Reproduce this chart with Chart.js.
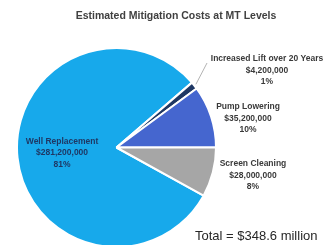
<!DOCTYPE html>
<html><head><meta charset="utf-8">
<script src="https://cdn.jsdelivr.net/npm/chart.js@4"></script>
<style>
html,body{margin:0;padding:0;background:#fff;overflow:hidden;width:325px;height:245px}
#wrap{position:relative;width:325px;height:248px}
</style>
</head><body><div id="wrap"><canvas id="c"></canvas></div>
<script>
const categories = ['Well Replacement', 'Increased Lift over 20 Years', 'Pump Lowering', 'Screen Cleaning'];
const costs = [281200000, 4200000, 35200000, 28000000];
const pctLabels = ['81%', '1%', '10%', '8%'];
const titleText = 'Estimated Mitigation Costs at MT Levels';
const totalText = 'Total = $348.6 million';

const colors = ['#17A9EB', '#1F3864', '#4566CF', '#A6A6A6'];
const FONT = '"Liberation Sans", Arial, sans-serif';

function money(v) { return '$' + v.toLocaleString('en-US'); }

const sum = costs.reduce((a, b) => a + b, 0);
const rotation = 90 + 360 * costs[3] / sum;

// label anchor layout (centre x, first-line y) for outside labels
const outside = {
  1: { x: 267, y: 59 },
  2: { x: 248, y: 107 },
  3: { x: 253, y: 164 }
};
const LH = 11.5;

const labelPlugin = {
  id: 'labels',
  afterDraw(chart) {
    const ctx = chart.ctx;
    const meta = chart.getDatasetMeta(0);
    ctx.save();
    // title
    ctx.fillStyle = '#404040';
    ctx.font = 'bold 10.5px ' + FONT;
    ctx.textAlign = 'center';
    ctx.textBaseline = 'middle';
    ctx.fillText(titleText, 176, 16);

    // inside label for Well Replacement
    const a0 = meta.data[0];
    const p0 = a0.getProps(['x', 'y', 'startAngle', 'endAngle', 'outerRadius']);
    const mid0 = (p0.startAngle + p0.endAngle) / 2;
    const ix = p0.x + Math.cos(mid0) * p0.outerRadius * 0.55;
    const iy = p0.y + Math.sin(mid0) * p0.outerRadius * 0.55;
    ctx.fillStyle = '#1F3864';
    ctx.font = 'bold 8.5px ' + FONT;
    [categories[0], money(costs[0]), pctLabels[0]].forEach((t, k) => {
      ctx.fillText(t, ix, iy + (k - 1) * LH);
    });

    // outside labels
    ctx.fillStyle = '#3A3A3A';
    [1, 2, 3].forEach(i => {
      const o = outside[i];
      [categories[i], money(costs[i]), pctLabels[i]].forEach((t, k) => {
        ctx.fillText(t, o.x, o.y + k * LH);
      });
    });

    // leader line for the thin slice
    const a1 = meta.data[1];
    const p1 = a1.getProps(['x', 'y', 'startAngle', 'endAngle', 'outerRadius']);
    const mid1 = (p1.startAngle + p1.endAngle) / 2;
    const sx = p1.x + Math.cos(mid1) * (p1.outerRadius + 2);
    const sy = p1.y + Math.sin(mid1) * (p1.outerRadius + 2);
    ctx.strokeStyle = '#A0A0A0';
    ctx.lineWidth = 0.8;
    ctx.beginPath();
    ctx.moveTo(sx, sy);
    ctx.lineTo(207, 63);
    ctx.stroke();

    // total
    ctx.fillStyle = '#262626';
    ctx.font = '13px ' + FONT;
    ctx.textAlign = 'left';
    ctx.fillText(totalText, 195, 236);
    ctx.restore();
  }
};

new Chart(document.getElementById('c'), {
  type: 'pie',
  data: {
    labels: categories,
    datasets: [{
      data: costs,
      backgroundColor: colors,
      borderColor: '#FFFFFF',
      borderWidth: 2
    }]
  },
  options: {
    responsive: true,
    maintainAspectRatio: false,
    devicePixelRatio: 1,
    animation: false,
    rotation: rotation,
    layout: { padding: { left: 16, right: 108, top: 47, bottom: 0 } },
    plugins: {
      legend: { display: false },
      tooltip: { enabled: false },
      title: { display: false }
    }
  },
  plugins: [labelPlugin]
});
</script>
</body></html>
